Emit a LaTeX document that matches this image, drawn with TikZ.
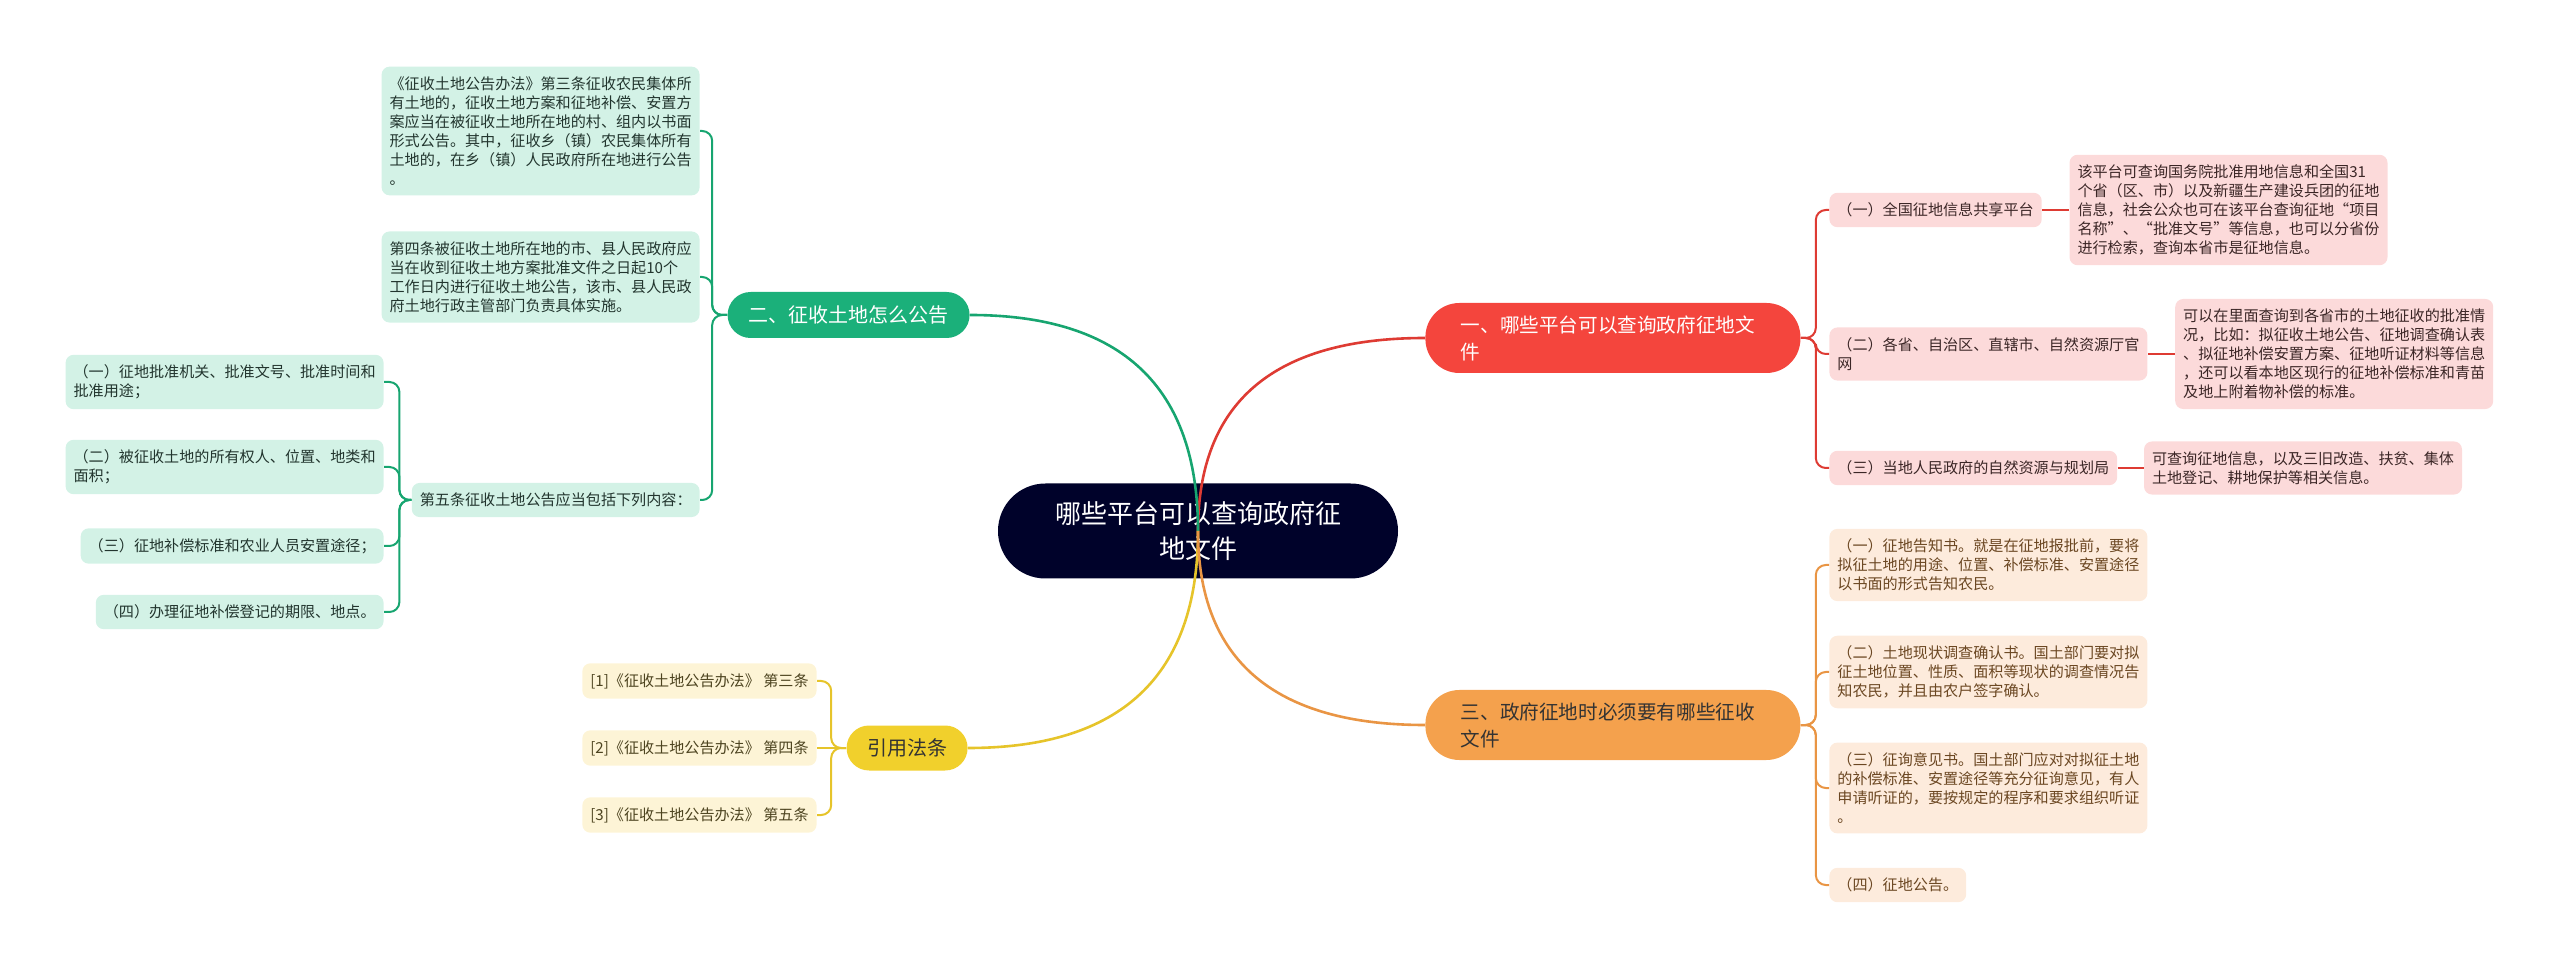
\documentclass[tikz,border=0pt]{standalone}
\usepackage{fontspec}
\setmainfont{Noto Sans CJK SC}
\usetikzlibrary{positioning}
\definecolor{navy}{HTML}{00022A}
\definecolor{redB}{HTML}{F4453D}
\definecolor{redL}{HTML}{DE3B33}
\definecolor{redP}{HTML}{FCDADA}
\definecolor{redT}{HTML}{3B2626}
\definecolor{grnB}{HTML}{1BB07A}
\definecolor{grnL}{HTML}{17A570}
\definecolor{grnP}{HTML}{D3F2E6}
\definecolor{grnT}{HTML}{22352E}
\definecolor{orgB}{HTML}{F4A14D}
\definecolor{orgL}{HTML}{E99544}
\definecolor{orgP}{HTML}{FDEBDC}
\definecolor{orgT}{HTML}{6B4722}
\definecolor{ylwB}{HTML}{F1D02C}
\definecolor{ylwL}{HTML}{E6C42A}
\definecolor{ylwP}{HTML}{FDF4D6}
\definecolor{ylwT}{HTML}{4D4420}

\begin{document}
\begin{tikzpicture}[x=.5pt,y=-.5pt,
  every node/.style={font=\fontsize{7.55}{9.5}\selectfont,inner xsep=4pt,inner ysep=5pt,rounded corners=4pt,align=left},
  rbox/.style={fill=redP,text=redT},
  gbox/.style={fill=grnP,text=grnT},
  obox/.style={fill=orgP,text=orgT},
  ybox/.style={fill=ylwP,text=ylwT},
  pill/.style={font=\fontsize{9.8}{13.5}\selectfont,text width=152pt,inner xsep=17.75pt,minimum height=35pt,rounded corners=17pt},
  main/.style={line width=1.3pt},
  link/.style={line width=1pt,rounded corners=5pt}]
\useasboundingbox (0,0) rectangle (2560,967);
% root and branches
\node[fill=navy,text=white,font=\fontsize{13}{17.5}\selectfont,align=center,minimum width=200pt,minimum height=47.5pt,rounded corners=23.7pt] (root) at (1198,531) {哪些平台可以查询政府征\\地文件};
\node[pill,fill=redB,text=white,anchor=west] (b1) at (1425,338) {一、哪些平台可以查询政府征地文\\件};
\node[pill,fill=orgB,text=black!80,anchor=west] (b3) at (1425,725) {三、政府征地时必须要有哪些征收\\文件};
\node[fill=grnB,text=white,font=\fontsize{10}{12}\selectfont,align=center,minimum width=121pt,minimum height=23pt,rounded corners=11.5pt,anchor=east] (b2) at (970,315) {二、征收土地怎么公告};
\node[fill=ylwB,text=black!80,font=\fontsize{10}{12}\selectfont,align=center,minimum width=60.5pt,minimum height=22.5pt,rounded corners=11.2pt,anchor=east] (b4) at (968,748) {引用法条};
% red side
\node[rbox,anchor=west] (r1) at (1829,210) {（一）全国征地信息共享平台};
\node[rbox,anchor=west] (r2) at (1829,354) {（二）各省、自治区、直辖市、自然资源厅官\\网};
\node[rbox,anchor=west] (r3) at (1829,468) {（三）当地人民政府的自然资源与规划局};
\node[rbox,right=13.5pt of r1] (r1a) {该平台可查询国务院批准用地信息和全国31\\个省（区、市）以及新疆生产建设兵团的征地\\信息，社会公众也可在该平台查询征地“项目\\名称”、“批准文号”等信息，也可以分省份\\进行检索，查询本省市是征地信息。};
\node[rbox,right=13.5pt of r2] (r2a) {可以在里面查询到各省市的土地征收的批准情\\况，比如：拟征收土地公告、征地调查确认表\\、拟征地补偿安置方案、征地听证材料等信息\\，还可以看本地区现行的征地补偿标准和青苗\\及地上附着物补偿的标准。};
\node[rbox,right=13pt of r3] (r3a) {可查询征地信息，以及三旧改造、扶贫、集体\\土地登记、耕地保护等相关信息。};
% orange side
\node[obox,anchor=west] (o1) at (1829,565) {（一）征地告知书。就是在征地报批前，要将\\拟征土地的用途、位置、补偿标准、安置途径\\以书面的形式告知农民。};
\node[obox,anchor=west] (o2) at (1829,672) {（二）土地现状调查确认书。国土部门要对拟\\征土地位置、性质、面积等现状的调查情况告\\知农民，并且由农户签字确认。};
\node[obox,anchor=west] (o3) at (1829,788) {（三）征询意见书。国土部门应对对拟征土地\\的补偿标准、安置途径等充分征询意见，有人\\申请听证的，要按规定的程序和要求组织听证\\。};
\node[obox,anchor=west] (o4) at (1829,885) {（四）征地公告。};
% green side
\node[gbox,anchor=east] (g1) at (700,131) {《征收土地公告办法》第三条征收农民集体所\\有土地的，征收土地方案和征地补偿、安置方\\案应当在被征收土地所在地的村、组内以书面\\形式公告。其中，征收乡（镇）农民集体所有\\土地的，在乡（镇）人民政府所在地进行公告\\。};
\node[gbox,anchor=east] (g2) at (700,277) {第四条被征收土地所在地的市、县人民政府应\\当在收到征收土地方案批准文件之日起10个\\工作日内进行征收土地公告，该市、县人民政\\府土地行政主管部门负责具体实施。};
\node[gbox,anchor=east] (g3) at (700,500) {第五条征收土地公告应当包括下列内容：};
\node[gbox,anchor=east] (g31) at (384,382) {（一）征地批准机关、批准文号、批准时间和\\批准用途；};
\node[gbox,anchor=east] (g32) at (384,467) {（二）被征收土地的所有权人、位置、地类和\\面积；};
\node[gbox,anchor=east] (g33) at (384,546) {（三）征地补偿标准和农业人员安置途径；};
\node[gbox,anchor=east] (g34) at (384,612) {（四）办理征地补偿登记的期限、地点。};
% yellow side
\node[ybox,anchor=east] (y1) at (817,681) {[1]《征收土地公告办法》 第三条};
\node[ybox,anchor=east] (y2) at (817,748) {[2]《征收土地公告办法》 第四条};
\node[ybox,anchor=east] (y3) at (817,815) {[3]《征收土地公告办法》 第五条};
% connectors
\draw[main,redL] (root.center) .. controls +(0,-129) and +(-151,0) .. (b1.west);
\draw[main,grnL] (root.center) .. controls +(0,-144) and +(152,0) .. (b2.east);
\draw[main,ylwL] (root.center) .. controls +(0,145) and +(153,0) .. (b4.east);
\draw[main,orgL] (root.center) .. controls +(0,129) and +(-151,0) .. (b3.west);
\foreach \n in {r1,r2,r3}{\draw[link,redL] (b1.east) -- ++(15,0) |- (\n.west);}
\foreach \n in {r1,r2,r3}{\draw[link,redL] (\n.east) -- (\n a.west);}
\foreach \n in {o1,o2,o3,o4}{\draw[link,orgL] (b3.east) -- ++(15,0) |- (\n.west);}
\foreach \n in {g1,g2,g3}{\draw[link,grnL] (b2.west) -- ++(-15,0) |- (\n.east);}
\foreach \n in {g31,g32,g33,g34}{\draw[link,grnL] (g3.west) -- ++(-12,0) |- (\n.east);}
\draw[link,ylwL] (b4.west) -- (y2.east);
\foreach \n in {y1,y3}{\draw[link,ylwL] (b4.west) -- ++(-15,0) |- (\n.east);}
\end{tikzpicture}
\end{document}
